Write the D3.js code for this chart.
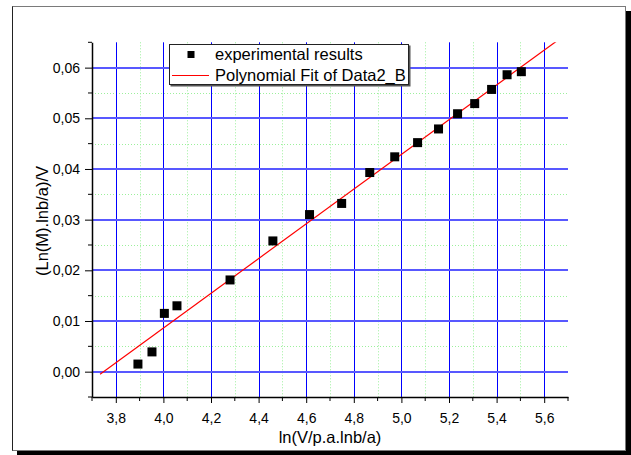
<!DOCTYPE html>
<style>
  body { margin: 0; background: white; }
  svg { display: block; font-family: Arial, "Liberation Sans", sans-serif; }
  .minor line { stroke: #9cf09c; stroke-dasharray: 1,2; }
  .vmajor line { stroke: #0000ff; }
  .hmajor line { stroke: #5858ff; stroke-width: 2; }
  .axis text { font-size: 14px; fill: #000; }
  .axis path, .axis line { stroke: #000; }
</style>
<body>
</body>
<script src="https://cdn.jsdelivr.net/npm/d3@7/dist/d3.min.js"></script>
<script>
  // measured points
  const xVals = [3.893, 3.952, 4.004, 4.057, 4.280, 4.460, 4.614, 4.749, 4.867,
                 4.972, 5.068, 5.156, 5.236, 5.308, 5.379, 5.444, 5.504];
  const yVals = [0.0015, 0.0039, 0.0115, 0.0130, 0.0181, 0.0258, 0.0310, 0.0332, 0.0393,
                 0.0424, 0.0452, 0.0479, 0.0509, 0.0529, 0.0557, 0.0586, 0.0592];
  // polynomial (linear) fit, start/end
  const fitX = [3.734, 5.66];
  const fitY = [-0.0005, 0.0655];

  const xTicks = [3.8, 4.0, 4.2, 4.4, 4.6, 4.8, 5.0, 5.2, 5.4, 5.6];
  const yTicks = [0.00, 0.01, 0.02, 0.03, 0.04, 0.05, 0.06];
  const xMinor = [3.7, 3.9, 4.1, 4.3, 4.5, 4.7, 4.9, 5.1, 5.3, 5.5, 5.7];
  const yMinor = [-0.005, 0.005, 0.015, 0.025, 0.035, 0.045, 0.055, 0.065];
  const legendLabels = ['experimental results', 'Polynomial Fit of Data2_B'];

  const W = 631, H = 455;
  const l = 92, r = 568, t = 42.3, b = 397;
  const fmt = v => d3.format('.1f')(v).replace('.', ',');
  const fmtY = v => d3.format('.2f')(v).replace('.', ',');

  const svg = d3.select('body').append('svg').attr('width', W).attr('height', H);

  // page frame + shadow
  svg.append('rect').attr('x', 17).attr('y', 11).attr('width', 614).attr('height', 444).attr('fill', '#000');
  svg.append('rect').attr('x', 12.5).attr('y', 6.5).attr('width', 613).attr('height', 444)
    .attr('fill', '#fff').attr('stroke', '#7a7a7a');
  svg.append('line').attr('x1', 12.5).attr('x2', 12.5).attr('y1', 6.5).attr('y2', 450.5).attr('stroke', '#222');

  const x = d3.scaleLinear().domain([3.7, 5.7]).range([l, r]);
  const y = d3.scaleLinear().domain([-0.005, 0.065]).range([b, t]);

  svg.append('clipPath').attr('id', 'clip')
    .append('rect').attr('x', l).attr('y', t).attr('width', r - l).attr('height', b - t);

  const grid = svg.append('g');
  // minor grid (dotted green)
  const minor = grid.append('g').attr('class', 'minor');
  minor.selectAll('.vm').data(xMinor.filter(v => v > 3.71 && v < 5.69)).join('line')
    .attr('x1', d => Math.round(x(d)) + 0.5).attr('x2', d => Math.round(x(d)) + 0.5)
    .attr('y1', t).attr('y2', b);
  minor.selectAll('.hm').data(yMinor.filter(v => v > -0.004 && v < 0.064)).join('line')
    .attr('y1', d => Math.round(y(d)) + 0.5).attr('y2', d => Math.round(y(d)) + 0.5)
    .attr('x1', l).attr('x2', r);

  // major grid (blue)
  grid.append('g').attr('class', 'vmajor').selectAll('line').data(xTicks).join('line')
    .attr('x1', d => Math.round(x(d)) + 0.5).attr('x2', d => Math.round(x(d)) + 0.5)
    .attr('y1', t).attr('y2', b);
  grid.append('g').attr('class', 'hmajor').selectAll('line').data(yTicks).join('line')
    .attr('y1', d => Math.round(y(d))).attr('y2', d => Math.round(y(d)))
    .attr('x1', l).attr('x2', r);

  // axes
  const xAxis = svg.append('g').attr('class', 'axis')
    .attr('transform', `translate(0, ${b})`)
    .call(d3.axisBottom(x).tickValues(xTicks).tickFormat(fmt).tickSize(6).tickPadding(10).tickSizeOuter(0));
  xAxis.append('g').selectAll('line').data(xMinor).join('line')
    .attr('x1', d => x(d)).attr('x2', d => x(d)).attr('y1', 0).attr('y2', 4).attr('stroke', '#000');
  xAxis.select('.domain').attr('stroke-width', 1.5);

  const yAxis = svg.append('g').attr('class', 'axis')
    .attr('transform', `translate(${l}, 0)`)
    .call(d3.axisLeft(y).tickValues(yTicks).tickFormat(fmtY).tickSize(7).tickPadding(5).tickSizeOuter(0));
  yAxis.append('g').selectAll('line').data(yMinor).join('line')
    .attr('y1', d => y(d)).attr('y2', d => y(d)).attr('x1', 0).attr('x2', -4).attr('stroke', '#000');
  yAxis.select('.domain').attr('stroke-width', 1.5);

  // fit line
  const plot = svg.append('g').attr('clip-path', 'url(#clip)');
  plot.append('path')
    .datum(d3.zip(fitX, fitY))
    .attr('d', d3.line().x(d => x(d[0])).y(d => y(d[1])))
    .attr('stroke', '#ff0000').attr('stroke-width', 1.2).attr('fill', 'none');

  // points
  const sz = 9;
  svg.append('g').selectAll('rect').data(d3.zip(xVals, yVals)).join('rect')
    .attr('x', d => x(d[0]) - sz / 2).attr('y', d => y(d[1]) - sz / 2)
    .attr('width', sz).attr('height', sz).attr('fill', '#000');

  // titles
  svg.append('text').attr('x', (l + r) / 2 + 0).attr('y', 443)
    .attr('text-anchor', 'middle').style('font-size', '16.5px').text('ln(V/p.a.lnb/a)');
  svg.append('text').attr('transform', `translate(48, 221) rotate(-90)`)
    .attr('text-anchor', 'middle').style('font-size', '16.5px').text('(Ln(M).lnb/a)/V');

  // legend
  const lg = svg.append('g');
  lg.append('rect').attr('x', 170.5).attr('y', 45.5).attr('width', 240).attr('height', 41).attr('fill', '#555');
  lg.append('rect').attr('x', 169.5).attr('y', 44.5).attr('width', 239).attr('height', 40)
    .attr('fill', '#fff').attr('stroke', '#222');
  lg.append('rect').attr('x', 187.5).attr('y', 51).attr('width', 7).attr('height', 7).attr('fill', '#000');
  lg.append('line').attr('x1', 172).attr('x2', 209).attr('y1', 75.5).attr('y2', 75.5)
    .attr('stroke', '#ff0000').attr('stroke-width', 1.2);
  lg.selectAll('text').data(legendLabels).join('text')
    .attr('x', 215).attr('y', (d, i) => 60 + i * 20.5)
    .style('font-size', '16.5px').text(d => d);
</script>
